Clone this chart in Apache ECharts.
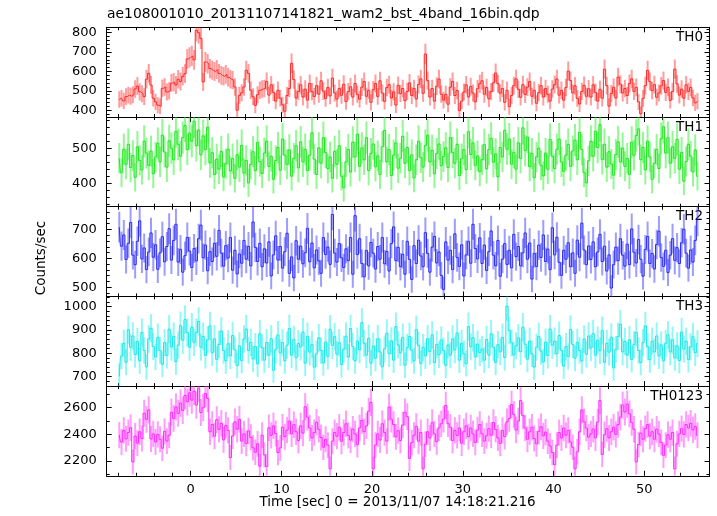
<!DOCTYPE html>
<html><head><meta charset="utf-8">
<script src="https://cdn.jsdelivr.net/npm/echarts@6/dist/echarts.min.js"></script>
<style>html,body{margin:0;padding:0;background:#fff}#c{width:717px;height:516px}</style>
</head><body><div id="c"></div>
<script>
const chartTitle = "ae108001010_20131107141821_wam2_bst_4band_16bin.qdp";
const xName = "Time [sec] 0 = 2013/11/07 14:18:21.216";
const yName = "Counts/sec";
const bandNames = ["TH0", "TH1", "TH2", "TH3", "TH0123"];
const binStart = -8, binWidth = 0.25;   // bin grid of the light curve (s)
const xTickLabels = [0, 10, 20, 30, 40, 50];

const th0 = [
455,462,448,470,478,472,480,510,525,495,485,470,560,590,530,462,
443,426,420,513,520,494,500,540,545,530,560,548,575,589,665,673,
680,660,812,800,771,546,649,640,615,606,600,610,590,580,575,585,
570,560,555,520,400,477,490,520,606,590,503,470,425,480,503,510,
512,548,478,531,492,447,503,462,428,395,476,512,642,558,463,497,
531,468,509,452,538,496,471,527,483,552,498,461,517,474,566,489,
458,512,477,534,445,496,521,468,538,482,457,519,548,472,503,441,
506,538,471,552,489,446,517,532,463,495,427,528,486,512,449,497,
541,476,512,458,533,562,487,690,553,468,512,447,524,561,483,452,
482,431,519,548,476,502,398,447,494,531,468,522,489,443,511,537,
552,483,517,459,496,541,592,537,488,512,441,503,418,476,527,562,
508,467,532,481,519,548,472,503,436,491,527,468,512,482,447,509,
532,561,478,503,452,517,602,553,489,526,461,432,497,528,472,511,
468,531,492,447,508,462,612,527,421,486,518,463,571,534,489,512,
476,538,562,497,518,443,382,461,527,606,548,501,532,467,489,526,
553,492,518,451,497,612,536,478,509,462,531,497,518,463,438,447];

const th1 = [
472,431,498,455,512,446,480,418,505,466,439,521,487,452,493,428,
476,515,462,538,490,447,522,501,468,549,512,478,531,566,497,544,
521,578,508,553,482,536,497,561,459,488,426,470,441,492,419,457,
498,436,471,415,482,447,509,430,466,402,455,491,437,518,463,429,
487,521,449,478,412,466,503,438,527,481,455,496,421,472,508,445,
519,462,498,437,481,545,470,426,502,458,531,489,443,476,415,492,
455,508,421,388,462,497,433,518,476,541,449,502,468,531,437,486,
513,448,479,426,505,552,462,497,423,481,516,444,472,535,458,503,
437,482,416,468,521,474,447,509,538,462,495,428,486,513,451,477,
502,446,531,489,458,512,423,471,497,440,548,483,516,452,479,434,
468,511,442,497,529,461,485,419,503,476,552,498,527,455,489,441,
516,472,559,494,533,448,486,417,476,501,452,422,487,441,526,478,
443,498,527,462,435,481,512,449,493,524,468,546,497,431,402,465,
521,478,549,503,568,469,512,447,491,456,424,483,519,462,501,449,
472,426,518,481,537,556,468,503,439,521,476,412,458,497,443,528,
562,487,531,458,505,472,526,441,489,407,463,512,478,433,496,421];

const th2 = [
708,642,681,596,652,724,611,578,659,730,598,636,561,622,688,604,
647,562,619,675,588,641,703,594,662,718,587,631,552,609,672,625,
568,634,591,668,715,602,646,557,623,589,652,607,697,618,573,644,
601,672,559,628,546,615,583,662,597,641,574,726,638,589,652,571,
633,584,657,539,612,678,594,641,566,623,687,548,605,532,661,597,
642,581,619,704,588,653,567,629,591,548,672,613,639,579,752,618,
587,651,602,568,633,592,672,545,748,613,668,582,536,627,574,655,
618,563,641,597,672,581,624,556,651,709,592,638,571,614,545,659,
596,527,644,582,663,608,571,689,617,552,639,676,584,622,541,492,
657,594,628,561,685,603,572,647,539,612,659,583,718,634,598,671,
582,646,558,623,695,611,574,662,538,597,651,579,628,567,683,606,
641,574,619,688,597,653,528,617,572,646,603,681,589,632,561,706,
612,673,586,541,628,597,654,571,619,548,663,604,722,629,578,643,
596,657,571,622,683,589,642,556,612,497,578,639,592,668,611,573,
649,578,702,621,584,665,597,538,631,676,582,617,563,648,694,603,
572,628,551,611,668,593,637,582,654,701,618,566,629,587,662,731];

const th3 = [
702,788,843,762,901,826,874,795,851,768,889,812,742,861,907,829,
785,868,812,753,846,791,903,827,872,764,835,918,856,944,889,826,
912,847,889,936,826,872,791,858,917,803,862,774,838,895,812,768,
841,789,876,815,748,832,769,861,904,812,847,776,829,755,883,824,
771,846,792,862,728,815,879,802,846,768,835,906,792,859,781,842,
827,891,758,872,805,837,741,798,866,812,759,848,787,903,834,871,
796,845,752,818,873,784,906,829,768,852,815,931,843,792,864,758,
831,779,862,806,742,819,886,798,853,771,914,836,802,868,749,825,
872,813,768,901,834,757,826,789,862,808,879,761,838,794,857,812,
749,836,792,861,815,887,771,843,798,756,914,828,867,786,839,803,
818,771,859,792,883,826,761,837,806,868,782,1002,897,845,793,832,
866,807,912,839,775,852,798,741,826,872,809,763,848,791,904,835,
852,798,876,813,745,829,787,902,838,779,847,812,768,861,796,874,
823,884,792,856,811,897,762,843,805,869,738,817,872,924,806,851,
792,858,774,837,889,812,761,846,917,828,773,852,806,874,789,836,
768,843,879,806,857,781,832,769,891,818,852,774,828,871,803,842];

const th0123 = [
2393,2341,2428,2365,2412,2448,2192,2386,2332,2418,2367,2557,2511,2582,2364,2402,
2341,2398,2362,2295,2421,2348,2392,2565,2518,2604,2556,2632,2578,2690,2642,2710,
2655,2722,2618,2745,2562,2598,2705,2668,2418,2472,2385,2508,2436,2482,2357,2466,
2428,2225,2386,2492,2437,2511,2348,2402,2331,2425,2376,2298,2265,2328,2160,2392,
2245,2158,2448,2391,2462,2405,2262,2297,2452,2381,2430,2498,2402,2471,2418,2352,
2462,2408,2605,2528,2446,2371,2412,2489,2436,2375,2302,2362,2318,2140,2347,2412,
2385,2452,2347,2412,2478,2391,2356,2438,2402,2321,2447,2503,2418,2462,2572,2638,
2140,2318,2402,2356,2478,2412,2348,2603,2512,2472,2381,2426,2352,2468,2565,2531,
2218,2336,2392,2458,2347,2412,2140,2325,2418,2371,2486,2402,2343,2447,2478,2512,
2615,2478,2452,2353,2428,2391,2446,2332,2418,2462,2381,2446,2402,2338,2431,2472,
2402,2348,2388,2441,2392,2487,2436,2372,2331,2428,2382,2492,2518,2622,2548,2431,
2498,2652,2538,2447,2362,2418,2452,2367,2328,2421,2455,2387,2416,2348,2312,2263,
2172,2318,2412,2371,2446,2392,2428,2341,2302,2140,2268,2418,2582,2492,2445,2378,
2402,2438,2372,2491,2652,2248,2396,2441,2372,2418,2452,2398,2472,2528,2618,2566,
2625,2552,2488,2437,2192,2322,2408,2362,2441,2472,2385,2418,2362,2437,2401,2338,
2242,2318,2396,2362,2412,2140,2328,2402,2441,2398,2472,2446,2481,2432,2458,2392];

const yTickLabels = [
  [400, 500, 600, 700, 800],
  [400, 500],
  [500, 600, 700],
  [700, 800, 900, 1000],
  [2200, 2400, 2600]
];

/* ---------- layout & style ---------- */
const FONT = "DejaVu Sans";
const gridLeft = 106.7, gridRightEdge = 709.5, gridTop = 27.3, panelH = 89.7;
const xRange = [-9.26, 57.2];
const panels = [
  {data: th0,    range: [365, 828],   step: 100, minor: 5, line: '#ff2a2a', err: 'rgba(255,60,60,0.5)'},
  {data: th1,    range: [334, 590],   step: 100, minor: 5, line: '#1ee81e', err: 'rgba(40,240,40,0.5)'},
  {data: th2,    range: [468, 779],   step: 100, minor: 5, line: '#2a2aff', err: 'rgba(60,60,255,0.5)'},
  {data: th3,    range: [660, 1043],  step: 100, minor: 5, line: '#1ee8e8', err: 'rgba(40,240,240,0.5)'},
  {data: th0123, range: [2088, 2760], step: 200, minor: 2, line: '#ff2aff', err: 'rgba(255,60,255,0.5)'}
];

const chart = echarts.init(document.getElementById('c'), null, {renderer: 'canvas'});
const grids = [], xAxes = [], yAxes = [], series = [];
const tickStyle = {color: '#000', width: 1};

panels.forEach((p, i) => {
  grids.push({left: gridLeft, width: gridRightEdge - gridLeft, top: gridTop + i * panelH, height: panelH,
              outerBoundsMode: 'none', containLabel: false});
  const last = i === panels.length - 1;
  const xBase = {
    type: 'value', gridIndex: i, min: xRange[0], max: xRange[1],
    minInterval: 10, maxInterval: 10, splitNumber: 6,
    axisLine: {show: true, onZero: false, lineStyle: tickStyle},
    axisTick: {show: true, inside: true, length: 5, lineStyle: tickStyle},
    minorTick: {show: true, splitNumber: 5, length: 3, lineStyle: tickStyle},
    splitLine: {show: false}, minorSplitLine: {show: false}
  };
  xAxes.push(Object.assign({}, xBase, {position: 'bottom',
    axisLabel: {show: last, showMinLabel: false, showMaxLabel: false, margin: 7,
      fontFamily: FONT, fontSize: 13, color: '#000',
      formatter: v => xTickLabels.indexOf(v) >= 0 ? String(v) : ''}}));
  xAxes.push(Object.assign({}, xBase, {position: 'top', axisLabel: {show: false}}));
  const yBase = {
    type: 'value', gridIndex: i, min: p.range[0], max: p.range[1],
    minInterval: p.step, maxInterval: p.step, splitNumber: 4,
    axisLine: {show: true, onZero: false, lineStyle: tickStyle},
    axisTick: {show: true, inside: true, length: 5, lineStyle: tickStyle},
    minorTick: {show: true, splitNumber: p.minor, length: 3, lineStyle: tickStyle},
    splitLine: {show: false}, minorSplitLine: {show: false}
  };
  const labels = yTickLabels[i];
  yAxes.push(Object.assign({}, yBase, {position: 'left',
    axisLabel: {show: true, showMinLabel: false, showMaxLabel: false, margin: 10,
      fontFamily: FONT, fontSize: 13, color: '#000',
      formatter: v => labels.indexOf(v) >= 0 ? String(v) : ''}}));
  yAxes.push(Object.assign({}, yBase, {position: 'right', axisLabel: {show: false}}));

  // Poisson error on a rate: sqrt(counts)/binWidth = sqrt(rate/binWidth)
  const pts = p.data.map((v, k) => [binStart + (k + 0.5) * binWidth, v, Math.sqrt(v / binWidth)]);

  series.push({
    type: 'custom', xAxisIndex: 2 * i, yAxisIndex: 2 * i, clip: true, silent: true,
    data: pts, encode: {x: 0, y: 1},
    renderItem: (params, api) => {
      const x = api.value(0), v = api.value(1), e = api.value(2);
      const a = api.coord([x, v - e]), b = api.coord([x, v + e]);
      return {type: 'line', shape: {x1: a[0], y1: a[1], x2: b[0], y2: b[1]},
              style: {stroke: p.err, lineWidth: 2}};
    }
  });
  series.push({
    type: 'line', xAxisIndex: 2 * i, yAxisIndex: 2 * i, step: 'middle',
    data: pts.map(q => [q[0], q[1]]), showSymbol: false, symbol: 'none', silent: true,
    lineStyle: {color: p.line, width: 1}, clip: true
  });
});

const graphics = [
  {type: 'text', left: 107, top: 7, style: {text: chartTitle, font: '13.9px "DejaVu Sans"', fill: '#000'}},
  {type: 'text', x: 41.5, y: 258, rotation: Math.PI / 2,
   style: {text: yName, font: '13.5px "DejaVu Sans"', fill: '#000', align: 'center', verticalAlign: 'middle'}},
  {type: 'text', x: 397.5, y: 502,
   style: {text: xName, font: '13.5px "DejaVu Sans"', fill: '#000', align: 'center', verticalAlign: 'middle'}}
];
bandNames.forEach((n, i) => {
  graphics.push({type: 'text', x: 703, y: gridTop + i * panelH + 10,
    style: {text: n, font: '13.5px "DejaVu Sans"', fill: '#000', align: 'right', verticalAlign: 'middle'}});
});

chart.setOption({
  animation: false,
  backgroundColor: '#fff',
  grid: grids, xAxis: xAxes, yAxis: yAxes, series: series,
  graphic: graphics
});
</script></body></html>
